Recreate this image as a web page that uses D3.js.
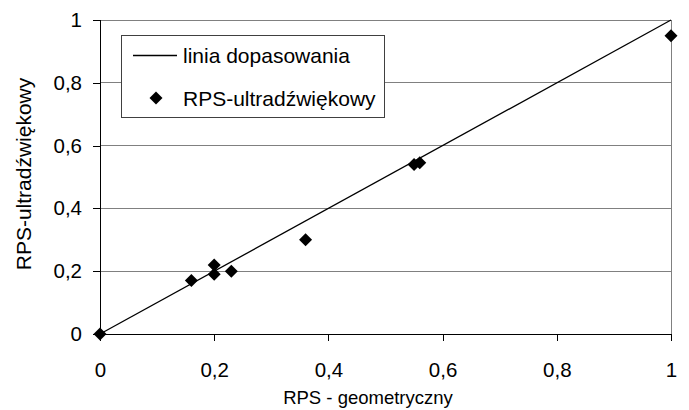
<!DOCTYPE html>
<html><head><meta charset="utf-8">
<script src="https://cdn.jsdelivr.net/npm/d3@7"></script>
<style>body{margin:0;background:#fff}svg{display:block}text{font-family:"Liberation Sans",Arial,sans-serif;fill:#000}</style>
</head><body><svg id="c" width="689" height="410"></svg>
<script>
const xVals = [0, 0.16, 0.2, 0.2, 0.23, 0.36, 0.55, 0.56, 1];
const yVals = [0, 0.17, 0.19, 0.22, 0.2, 0.3, 0.54, 0.545, 0.95];
const fitX = [0, 1];
const fitY = [0, 1];
const xTicks = [0, 0.2, 0.4, 0.6, 0.8, 1];
const yTicks = [0, 0.2, 0.4, 0.6, 0.8, 1];
const xTitle = "RPS - geometryczny";
const yTitle = "RPS-ultradźwiękowy";
const legendLabels = ["linia dopasowania", "RPS-ultradźwiękowy"];

const svg = d3.select("#c");
const L = 100, R = 671, T = 20, B = 334;
const x = d3.scaleLinear().domain([0, 1]).range([L, R]);
const y = d3.scaleLinear().domain([0, 1]).range([B, T]);
const fmt = d => d === 0 ? "0" : d === 1 ? "1" : String(d).replace(".", ",");

// gridlines
svg.append("g").selectAll("line").data(yTicks.filter(d => d > 0)).join("line")
  .attr("x1", L).attr("x2", R).attr("y1", d => y(d)).attr("y2", d => y(d))
  .attr("stroke", "#808080").attr("stroke-width", 1).attr("shape-rendering", "crispEdges");
// right border
svg.append("line").attr("x1", R).attr("x2", R).attr("y1", T).attr("y2", B)
  .attr("stroke", "#808080").attr("shape-rendering", "crispEdges");

// axes
const xa = svg.append("g").attr("transform", `translate(0,${B})`)
  .call(d3.axisBottom(x).tickValues(xTicks).tickFormat(fmt).tickSize(7).tickPadding(21));
const ya = svg.append("g").attr("transform", `translate(${L},0)`)
  .call(d3.axisLeft(y).tickValues(yTicks).tickFormat(fmt).tickSize(7).tickPadding(11));
[xa, ya].forEach(a => {
  a.select(".domain").attr("stroke", "#000").attr("shape-rendering", "crispEdges");
  a.selectAll(".tick line").attr("stroke", "#000").attr("shape-rendering", "crispEdges");
  a.selectAll("text").style("font-family", '"Liberation Sans",Arial,sans-serif').style("font-size", "20.5px").attr("fill", "#000");
});

// fit line
svg.append("path").datum(fitX.map((d, i) => [d, fitY[i]]))
  .attr("d", d3.line().x(d => x(d[0])).y(d => y(d[1])))
  .attr("stroke", "#000").attr("stroke-width", 1.3).attr("fill", "none");

// points
const diamond = s => `M0,${-s}L${s},0L0,${s}L${-s},0Z`;
svg.append("g").selectAll("path").data(xVals.map((d, i) => [d, yVals[i]])).join("path")
  .attr("transform", d => `translate(${x(d[0])},${y(d[1])})`)
  .attr("d", diamond(6.5)).attr("fill", "#000");

// titles
svg.append("text").attr("x", 368).attr("y", 404).attr("text-anchor", "middle")
  .style("font-size", "18.5px").text(xTitle);
svg.append("text").attr("transform", `translate(31,${(T + B) / 2 - 3}) rotate(-90)`).attr("text-anchor", "middle")
  .style("font-size", "21px").text(yTitle);

// legend
const lg = svg.append("g");
lg.append("rect").attr("x", 121.5).attr("y", 35.5).attr("width", 263).attr("height", 82)
  .attr("fill", "#fff").attr("stroke", "#404040").attr("stroke-width", 1);
lg.append("line").attr("x1", 133).attr("x2", 177).attr("y1", 55.5).attr("y2", 55.5)
  .attr("stroke", "#000").attr("stroke-width", 1.3);
lg.append("path").attr("transform", "translate(156,98)").attr("d", diamond(6.5)).attr("fill", "#000");
lg.selectAll("text").data(legendLabels).join("text")
  .attr("x", 183).attr("y", (d, i) => [62.5, 105.5][i]).style("font-size", "21px").text(d => d);
</script></body></html>
